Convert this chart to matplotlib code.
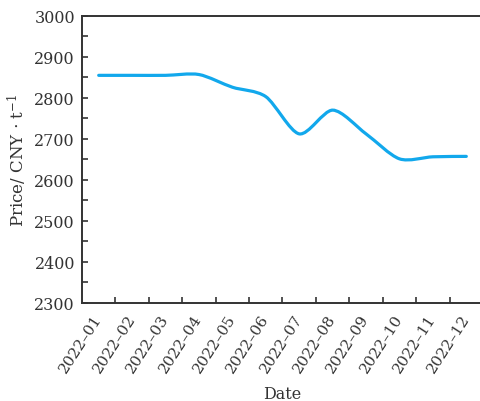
import numpy as np
import matplotlib
matplotlib.use("Agg")
import matplotlib.pyplot as plt
from matplotlib.path import Path
from matplotlib.patches import PathPatch
from matplotlib.ticker import FixedLocator, MultipleLocator

months = ["2022–01", "2022–02", "2022–03", "2022–04", "2022–05", "2022–06",
          "2022–07", "2022–08", "2022–09", "2022–10", "2022–11", "2022–12"]
price = [2855, 2855, 2855, 2857, 2826, 2803, 2712, 2770, 2712, 2651, 2656, 2657]

plt.rcParams["font.family"] = ["DejaVu Serif"]
plt.rcParams["mathtext.fontset"] = "dejavuserif"


def smooth_path(xs, ys, tension=0.14):
    # Catmull-Rom style cubic Bezier through the monthly points
    xs = np.asarray(xs, float)
    ys = np.asarray(ys, float)
    verts = [(xs[0], ys[0])]
    codes = [Path.MOVETO]
    n = len(xs)
    for i in range(n - 1):
        x0, y0 = (xs[i - 1], ys[i - 1]) if i > 0 else (xs[i], ys[i])
        x3, y3 = (xs[i + 2], ys[i + 2]) if i + 2 < n else (xs[i + 1], ys[i + 1])
        c1 = (xs[i] + (xs[i + 1] - x0) * tension, ys[i] + (ys[i + 1] - y0) * tension)
        c2 = (xs[i + 1] - (x3 - xs[i]) * tension, ys[i + 1] - (y3 - ys[i]) * tension)
        verts += [c1, c2, (xs[i + 1], ys[i + 1])]
        codes += [Path.CURVE4] * 3
    return Path(verts, codes)


fig = plt.figure(figsize=(4.81, 4.02), dpi=100)
ax = fig.add_axes([82 / 481, 98.5 / 402, 401 / 481, 286.5 / 402])

x = np.arange(len(months))
ax.add_patch(PathPatch(smooth_path(x, price), facecolor="none",
                       edgecolor="#12a8ec", lw=2.3, capstyle="round"))
ax.plot(x, price, lw=0)

ax.set_xlim(-0.5, 11.5)
ax.set_ylim(2300, 3000)

ax.set_xticks(x)
ax.set_xticklabels(months, rotation=57, ha="right", va="center",
                   rotation_mode="anchor", fontsize=11)
ax.xaxis.set_minor_locator(FixedLocator(x[:-1] + 0.5))
ax.yaxis.set_major_locator(MultipleLocator(100))
ax.yaxis.set_minor_locator(FixedLocator(np.arange(2350, 3000, 100)))
ax.tick_params(axis="x", which="major", length=0, pad=9)
ax.tick_params(axis="y", which="major", direction="in", length=4.5, width=1.2, pad=5)
ax.tick_params(axis="y", which="major", labelsize=11.5)
ax.tick_params(axis="both", which="major", colors="#333333")
ax.tick_params(axis="both", which="minor", direction="in", length=4.5,
               width=1.2, color="#333333")

for side in ["left", "bottom", "top", "right"]:
    ax.spines[side].set_linewidth(1.4)
    ax.spines[side].set_color("#333333")

ax.set_xlabel("Date", fontsize=11.5, color="#333333", labelpad=8)
ax.set_ylabel(r"Price/ CNY $\cdot$ t$^{-1}$", fontsize=12, color="#333333", labelpad=4)

fig.savefig("out.png", dpi=100)
